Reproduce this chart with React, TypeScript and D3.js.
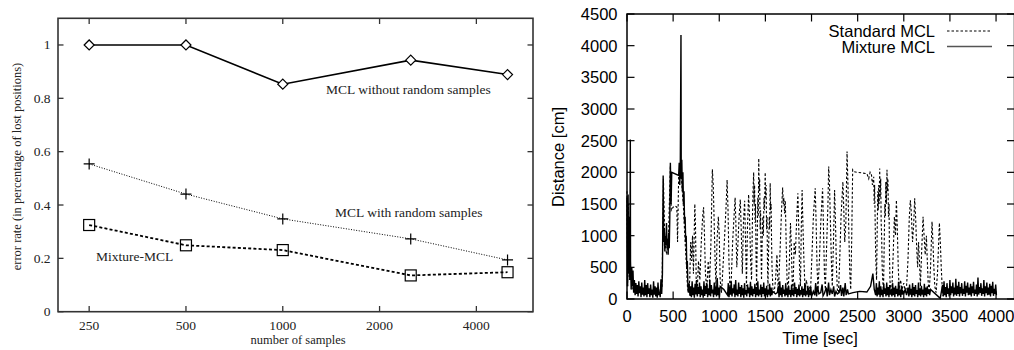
import React from "react";
import * as d3 from "d3";

// ---------- Left chart data ----------
const samples = [250, 500, 1000, 2500, 5000];
const withoutRandom = [1.0, 1.0, 0.853, 0.943, 0.889];
const withRandom = [0.554, 0.441, 0.348, 0.273, 0.194];
const mixtureErr = [0.325, 0.249, 0.231, 0.136, 0.148];
const leftXTicks = [250, 500, 1000, 2000, 4000];
const leftYTicks = [0, 0.2, 0.4, 0.6, 0.8, 1];
const leftYTickLabels = ["0", "0.2", "0.4", "0.6", "0.8", "1"];

// ---------- Right chart data ----------
const rightXTicks = [0, 500, 1000, 1500, 2000, 2500, 3000, 3500, 4000];
const rightYTicks = [0, 500, 1000, 1500, 2000, 2500, 3000, 3500, 4000, 4500];

const standardMCL: [number, number][] = [
  [0, 1700], [8, 200], [15, 1500], [25, 300], [40, 500], [55, 150], [70, 300], [90, 100], [120, 200], [160, 80],
  [200, 150], [250, 100], [300, 180], [350, 120], [380, 200], [395, 1900], [410, 900], [430, 700], [450, 1000],
  [470, 2100], [480, 1400], [500, 1450], [520, 1470], [540, 1450], [548, 900], [560, 1950], [575, 2050], [590, 1900],
  [610, 1500], [630, 900], [645, 500], [655, 200], [665, 100],
  [680, 300], [690, 900], [700, 600], [710, 1000], [720, 400], [735, 1500], [742, 1200], [750, 300], [760, 100],
  [775, 600], [790, 300], [805, 900], [820, 1300], [830, 1450], [840, 1000], [850, 400], [865, 150], [880, 600],
  [895, 250], [910, 900], [925, 2050], [935, 1800], [945, 1200], [955, 600], [965, 200], [975, 900], [990, 1300],
  [1000, 1000], [1010, 300], [1025, 100], [1040, 500], [1055, 900], [1075, 1500], [1085, 1880], [1095, 1400],
  [1105, 600], [1115, 200], [1130, 300], [1145, 900], [1160, 1300], [1172, 1600], [1180, 1200], [1190, 500],
  [1200, 800], [1215, 1300], [1228, 1570], [1238, 1100], [1250, 400], [1262, 1200], [1275, 1550], [1285, 900],
  [1295, 200], [1305, 1100], [1318, 1650], [1328, 1300], [1340, 600], [1350, 300],
  [1360, 1300], [1366, 1700], [1373, 2000], [1378, 1500], [1383, 1800], [1388, 1200], [1393, 1500], [1398, 700],
  [1405, 200], [1412, 1000], [1418, 1600], [1423, 1300], [1428, 2220], [1433, 1700], [1438, 1900], [1443, 1100],
  [1448, 1400], [1453, 700], [1458, 300], [1465, 900], [1472, 1300], [1478, 1000], [1485, 1600], [1490, 1400],
  [1498, 2000], [1503, 1600], [1508, 1800], [1513, 1100], [1518, 1300], [1523, 500], [1528, 200], [1535, 800],
  [1542, 1300], [1547, 1100], [1552, 1830], [1557, 1400], [1562, 1500], [1567, 900], [1572, 500], [1582, 150],
  [1595, 100], [1610, 300], [1625, 700], [1640, 100], [1660, 800],
  [1675, 1400], [1687, 1760], [1695, 1500], [1700, 1600], [1708, 1350], [1716, 1550], [1725, 900], [1735, 300],
  [1748, 150], [1760, 600], [1772, 1200], [1782, 800], [1790, 300], [1800, 150], [1812, 900], [1825, 700],
  [1840, 1300], [1852, 1670], [1862, 1100], [1870, 500], [1880, 200], [1890, 1200], [1898, 1720], [1908, 1100],
  [1918, 600], [1930, 150], [1945, 300], [1960, 100], [1975, 200], [1990, 150], [2005, 700], [2020, 1300],
  [2040, 1750], [2050, 1200], [2060, 500], [2070, 150], [2085, 600], [2100, 1200], [2120, 1750], [2130, 1100],
  [2140, 400], [2150, 150], [2165, 900], [2178, 1500], [2186, 2090], [2195, 1800], [2205, 1200], [2215, 600],
  [2225, 200], [2238, 900], [2250, 1720], [2260, 1200], [2270, 500], [2280, 150], [2292, 100], [2305, 600],
  [2320, 1300], [2340, 1850], [2350, 1400], [2360, 900], [2372, 1200], [2385, 2330], [2395, 1800], [2405, 1000],
  [2415, 400], [2425, 150], [2435, 900], [2446, 2040], [2460, 2010], [2500, 2000], [2550, 1990], [2600, 1980],
  [2620, 1900], [2635, 2000], [2650, 1960], [2660, 1800],
  [2674, 1930], [2679, 1500], [2684, 1800], [2690, 1200], [2695, 700], [2705, 300], [2712, 1100], [2718, 1700],
  [2723, 1400], [2728, 1800], [2733, 1500], [2739, 2060], [2744, 1600], [2750, 1900], [2755, 1200], [2760, 1000],
  [2766, 500], [2772, 300], [2780, 100], [2788, 900], [2795, 1500], [2800, 1300], [2805, 1850], [2811, 1500],
  [2818, 2040], [2823, 1700], [2828, 1900], [2834, 1300], [2840, 1500], [2845, 700], [2850, 300], [2860, 100],
  [2872, 200], [2885, 700],
  [2898, 1300], [2910, 1000], [2920, 1560], [2930, 1100], [2940, 500], [2950, 150], [2965, 300], [2980, 150],
  [3000, 250], [3015, 100], [3030, 200], [3045, 600], [3060, 1300], [3071, 1560], [3080, 1400], [3095, 900],
  [3108, 1200], [3118, 1590], [3128, 1300], [3140, 800], [3150, 500], [3160, 900], [3170, 600], [3180, 200],
  [3195, 800], [3209, 1300], [3220, 1000], [3232, 700], [3245, 1000], [3255, 600], [3265, 250], [3275, 100],
  [3290, 500], [3306, 1220], [3316, 900], [3326, 500], [3336, 200], [3350, 100], [3365, 400], [3386, 1200],
  [3396, 900], [3406, 500], [3416, 200], [3425, 50], [3440, 100], [3500, 150], [3600, 100], [3700, 120],
  [3800, 90], [3900, 130], [4000, 100],
];

const mixtureMCL: [number, number][] = [
  [0, 1600], [5, 200], [12, 1650], [18, 400], [25, 1300], [30, 300], [36, 2520], [38, 600], [45, 150], [52, 500],
  [58, 200], [65, 450], [72, 100], [80, 300], [88, 60], [96, 250], [104, 80], [112, 220], [120, 40], [128, 280],
  [136, 90], [144, 200], [152, 30], [160, 260], [168, 70], [176, 180], [184, 40], [192, 300], [200, 60], [208, 220],
  [216, 30], [224, 250], [232, 80], [240, 170], [248, 30], [256, 230], [264, 60], [272, 150], [280, 20], [288, 280],
  [296, 70], [304, 200], [312, 40], [320, 180], [328, 20], [336, 260], [344, 60], [352, 120], [360, 30], [368, 310],
  [376, 80], [384, 400], [392, 1950], [398, 900], [404, 1100], [410, 750], [416, 1000], [422, 850], [428, 1200],
  [434, 800], [440, 950], [446, 700], [452, 1050], [458, 800], [464, 1300], [470, 2150], [478, 1500], [485, 2000],
  [560, 1950], [566, 2150], [572, 1800], [578, 2200], [585, 4170], [588, 1900], [594, 2200], [600, 1700],
  [606, 2000], [612, 1500], [618, 1700], [624, 1200], [630, 1300], [636, 900], [642, 1000], [648, 500], [654, 600],
  [660, 200], [666, 100],
  [674, 250], [682, 50], [690, 200], [698, 30], [706, 280], [714, 60], [722, 180], [730, 20], [738, 240], [746, 70],
  [754, 300], [762, 40], [770, 190], [778, 80], [786, 260], [794, 30], [802, 200], [810, 60], [818, 150], [826, 20],
  [834, 280], [842, 50], [850, 210], [858, 80], [866, 250], [874, 30], [882, 170], [890, 60], [898, 300], [906, 40],
  [914, 220], [922, 90], [930, 150], [938, 30], [946, 260], [954, 70], [962, 200], [970, 40], [978, 330], [986, 60],
  [994, 180], [1002, 30], [1010, 200], [1050, 150], [1090, 60],
  [1098, 250], [1106, 30], [1114, 200], [1122, 70], [1130, 280], [1138, 40], [1146, 170], [1154, 90], [1162, 230],
  [1170, 30], [1178, 300], [1186, 60], [1194, 150], [1202, 40], [1210, 260], [1218, 80], [1226, 190], [1234, 30],
  [1242, 220], [1250, 60], [1258, 170], [1266, 20], [1274, 250], [1282, 70], [1290, 140], [1298, 40], [1306, 230],
  [1314, 90], [1322, 180], [1330, 30], [1338, 270], [1346, 60], [1354, 200], [1362, 40], [1370, 160], [1378, 80],
  [1386, 240], [1394, 30], [1402, 190], [1410, 60], [1418, 280], [1426, 40], [1434, 150], [1442, 70], [1450, 230],
  [1458, 30], [1466, 190], [1474, 80], [1482, 260], [1490, 40], [1498, 170], [1506, 60], [1514, 210], [1522, 30],
  [1530, 150], [1538, 70], [1546, 240], [1554, 40], [1562, 180], [1570, 60], [1578, 120], [1610, 80], [1630, 100],
  [1640, 200], [1648, 30], [1656, 280], [1664, 60], [1672, 180], [1680, 30], [1688, 220], [1696, 80], [1704, 150],
  [1712, 40], [1720, 250], [1728, 60], [1736, 170], [1744, 30], [1752, 210], [1760, 70], [1768, 140], [1776, 30],
  [1784, 230], [1792, 60], [1800, 150], [1808, 40], [1816, 260], [1824, 80], [1832, 190], [1840, 30], [1848, 160],
  [1856, 60], [1864, 230], [1872, 40], [1880, 140], [1888, 70], [1896, 200], [1904, 30], [1912, 160], [1920, 60],
  [1928, 250], [1936, 40], [1944, 130], [1952, 70], [1960, 210], [1968, 30], [1976, 150], [1984, 60], [1992, 190],
  [2000, 40], [2020, 120], [2035, 60], [2045, 250], [2055, 40], [2065, 200], [2080, 80], [2100, 100], [2115, 230],
  [2125, 50], [2140, 90], [2160, 180], [2170, 40], [2185, 260], [2195, 60], [2210, 150], [2225, 80], [2240, 200],
  [2250, 40], [2265, 120], [2280, 80], [2300, 100], [2315, 220], [2325, 50], [2340, 180], [2350, 40], [2365, 250],
  [2375, 60], [2390, 150], [2400, 80], [2450, 100], [2520, 120], [2600, 110], [2640, 200], [2665, 400], [2680, 150],
  [2695, 60],
  [2703, 250], [2711, 40], [2719, 180], [2727, 70], [2735, 280], [2743, 30], [2751, 200], [2759, 60], [2767, 150],
  [2775, 30], [2783, 240], [2791, 80], [2799, 170], [2807, 40], [2815, 260], [2823, 60], [2831, 190], [2839, 30],
  [2847, 220], [2855, 70], [2863, 140], [2871, 40], [2879, 250], [2887, 60], [2895, 180], [2903, 30], [2911, 210],
  [2919, 80], [2927, 160], [2935, 40], [2943, 270], [2951, 60], [2959, 150], [2967, 30], [2975, 200], [2983, 70],
  [2991, 120], [3000, 90], [3015, 150], [3030, 60], [3045, 180], [3055, 40], [3063, 230], [3071, 70], [3079, 160],
  [3087, 30], [3095, 250], [3103, 60], [3111, 190], [3119, 40], [3127, 220], [3135, 80], [3143, 140], [3151, 30],
  [3159, 260], [3167, 60], [3175, 170], [3183, 40], [3191, 210], [3199, 70], [3207, 150], [3215, 30], [3223, 240],
  [3231, 60], [3239, 180], [3247, 40], [3255, 200], [3263, 80], [3271, 150], [3280, 60], [3290, 150], [3395, 10],
  [3420, 220], [3428, 40], [3436, 280], [3444, 60], [3452, 190], [3460, 30], [3468, 250], [3476, 80], [3484, 170],
  [3492, 40], [3500, 300], [3508, 60], [3516, 200], [3524, 90], [3532, 260], [3540, 40], [3548, 180], [3556, 70],
  [3564, 320], [3572, 50], [3580, 210], [3588, 80], [3596, 270], [3604, 40], [3612, 190], [3620, 90], [3628, 250],
  [3636, 50], [3644, 160], [3652, 80], [3660, 280], [3668, 40], [3676, 210], [3684, 100], [3692, 260], [3700, 60],
  [3708, 180], [3716, 70], [3724, 240], [3732, 40], [3740, 200], [3748, 90], [3756, 270], [3764, 50], [3772, 150],
  [3780, 80], [3788, 230], [3796, 40], [3804, 340], [3812, 70], [3820, 190], [3828, 100], [3836, 250], [3844, 50],
  [3852, 170], [3860, 80], [3868, 300], [3876, 40], [3884, 200], [3892, 90], [3900, 260], [3908, 60], [3916, 180],
  [3924, 70], [3932, 240], [3940, 40], [3948, 210], [3956, 90], [3964, 270], [3972, 50], [3980, 160], [3988, 80],
  [3996, 230], [4004, 60],
];

const SERIF = "'Liberation Serif', 'Times New Roman', serif";
const SANS = "'Liberation Sans', Arial, Helvetica, sans-serif";

function LeftChart() {
  const x = d3.scaleLog().domain([200, 6000]).range([58, 533]);
  const y = d3.scaleLinear().domain([0, 1.1]).range([311.7, 18.3]);
  const frame = "#333";
  const line = d3
    .line<number>()
    .x((_, i) => x(samples[i]))
    .y((d) => y(d));
  const diamond = (cx: number, cy: number) =>
    `M${cx - 5},${cy}L${cx},${cy - 5}L${cx + 5},${cy}L${cx},${cy + 5}Z`;
  return (
    <g>
      <path d={line(withoutRandom) || ""} fill="none" stroke="#000" strokeWidth={1.6} />
      <path d={line(withRandom) || ""} fill="none" stroke="#000" strokeWidth={1} strokeDasharray="1,1.6" />
      <path d={line(mixtureErr) || ""} fill="none" stroke="#000" strokeWidth={1.8} strokeDasharray="3,2.2" />
      {withoutRandom.map((v, i) => (
        <path key={"d" + i} d={diamond(x(samples[i]), y(v))} fill="#fff" stroke="#000" strokeWidth={1.2} />
      ))}
      {withRandom.map((v, i) => (
        <path
          key={"p" + i}
          d={`M${x(samples[i]) - 5.5},${y(v)}H${x(samples[i]) + 5.5}M${x(samples[i])},${y(v) - 5.5}V${y(v) + 5.5}`}
          stroke="#000"
          strokeWidth={1.2}
        />
      ))}
      {mixtureErr.map((v, i) => (
        <rect
          key={"s" + i}
          x={x(samples[i]) - 5.5}
          y={y(v) - 5.5}
          width={11}
          height={11}
          fill="none"
          stroke="#000"
          strokeWidth={1.2}
        />
      ))}
      <rect x={58} y={18.3} width={475} height={293.4} fill="none" stroke={frame} strokeWidth={1.6} />
      {leftYTicks.map((t, i) => (
        <g key={"yt" + i}>
          <line x1={58} x2={63.5} y1={y(t)} y2={y(t)} stroke={frame} strokeWidth={1.3} />
          <line x1={533} x2={527.5} y1={y(t)} y2={y(t)} stroke={frame} strokeWidth={1.3} />
          <text x={50.5} y={y(t) + 4.5} textAnchor="end" fontFamily={SERIF} fontSize={13.5} fill="#222">
            {leftYTickLabels[i]}
          </text>
        </g>
      ))}
      {leftXTicks.map((t, i) => (
        <g key={"xt" + i}>
          <line x1={x(t)} x2={x(t)} y1={311.7} y2={306} stroke={frame} strokeWidth={1.3} />
          <line x1={x(t)} x2={x(t)} y1={18.3} y2={24} stroke={frame} strokeWidth={1.3} />
          <text x={x(t)} y={329.5} textAnchor="middle" fontFamily={SERIF} fontSize={13.5} fill="#222">
            {t}
          </text>
        </g>
      ))}
      <text x={326} y={94} fontFamily={SERIF} fontSize={13.5} fill="#222">
        MCL without random samples
      </text>
      <text x={335} y={217} fontFamily={SERIF} fontSize={13.5} fill="#222">
        MCL with random samples
      </text>
      <text x={96} y={260.5} fontFamily={SERIF} fontSize={13.5} fill="#222">
        Mixture-MCL
      </text>
      <text
        transform="translate(21,166.5) rotate(-90)"
        textAnchor="middle"
        fontFamily={SERIF}
        fontSize={12.5}
        fill="#222"
      >
        error rate (in percentage of lost positions)
      </text>
      <text x={298} y={344} textAnchor="middle" fontFamily={SERIF} fontSize={12.5} fill="#222">
        number of samples
      </text>
    </g>
  );
}

function RightChart() {
  const x = d3.scaleLinear().domain([0, 4200]).range([627, 1014.5]);
  const y = d3.scaleLinear().domain([0, 4500]).range([299, 14]);
  const line = d3
    .line<[number, number]>()
    .x((d) => x(d[0]))
    .y((d) => y(d[1]));
  return (
    <g>
      <path d={line(standardMCL) || ""} fill="none" stroke="#000" strokeWidth={1.1} strokeDasharray="2.5,2" />
      <path d={line(mixtureMCL) || ""} fill="none" stroke="#000" strokeWidth={1.4} />
      <rect x={627} y={14} width={387.5} height={285} fill="none" stroke="#000" strokeWidth={1.5} />
      {rightYTicks.map((t, i) => (
        <g key={"ryt" + i}>
          <line x1={627} x2={634.5} y1={y(t)} y2={y(t)} stroke="#000" strokeWidth={1.2} />
          <line x1={1014.5} x2={1007} y1={y(t)} y2={y(t)} stroke="#000" strokeWidth={1.2} />
          <text x={617.5} y={y(t) + 6} textAnchor="end" fontFamily={SANS} fontSize={16.5} fill="#000">
            {t}
          </text>
        </g>
      ))}
      {rightXTicks.map((t, i) => (
        <g key={"rxt" + i}>
          <line x1={x(t)} x2={x(t)} y1={299} y2={291.5} stroke="#000" strokeWidth={1.2} />
          <line x1={x(t)} x2={x(t)} y1={14} y2={21.5} stroke="#000" strokeWidth={1.2} />
          <text x={x(t)} y={321.5} textAnchor="middle" fontFamily={SANS} fontSize={16.5} fill="#000">
            {t}
          </text>
        </g>
      ))}
      <text x={935} y={36.5} textAnchor="end" fontFamily={SANS} fontSize={16.5} fill="#000">
        Standard MCL
      </text>
      <line x1={947} x2={992} y1={31} y2={31} stroke="#000" strokeWidth={1} strokeDasharray="2.5,2" />
      <text x={935} y={52.5} textAnchor="end" fontFamily={SANS} fontSize={16.5} fill="#000">
        Mixture MCL
      </text>
      <line x1={947} x2={992} y1={46.5} y2={46.5} stroke="#555" strokeWidth={1.3} />
      <text
        transform="translate(564,157) rotate(-90)"
        textAnchor="middle"
        fontFamily={SANS}
        fontSize={16.5}
        fill="#000"
      >
        Distance [cm]
      </text>
      <text x={820} y={344} textAnchor="middle" fontFamily={SANS} fontSize={16.5} fill="#000">
        Time [sec]
      </text>
    </g>
  );
}

export default function App() {
  return (
    <svg
      width={1014}
      height={350}
      viewBox="0 0 1014 350"
      style={{ position: "absolute", left: 0, top: 0, background: "#fff" }}
    >
      <rect x={0} y={0} width={1014} height={350} fill="#fff" />
      <LeftChart />
      <RightChart />
    </svg>
  );
}
